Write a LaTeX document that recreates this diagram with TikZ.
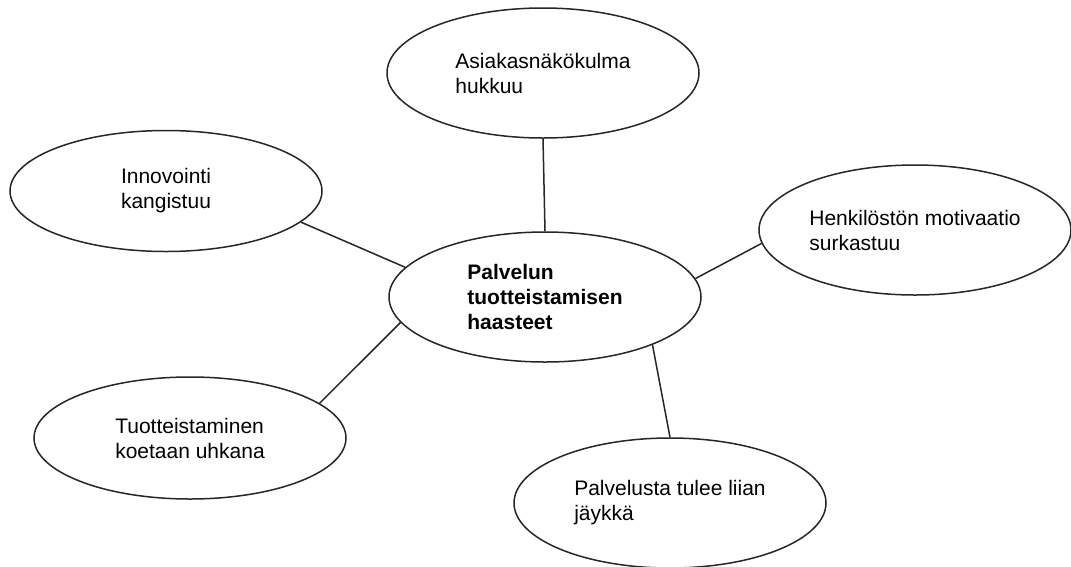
\documentclass[tikz,border=0pt]{standalone}
\usepackage{fontspec}
\setmainfont{Liberation Sans}
\usetikzlibrary{shapes.geometric}
\begin{document}
\begin{tikzpicture}[x=1pt,y=-1pt,
  bubble/.style={ellipse,draw=black!85,line width=1.5pt,fill=white,
    minimum width=312pt,minimum height=130pt,inner sep=0pt,align=left,
    font=\fontsize{21}{25}\selectfont},
  link/.style={draw=black!85,line width=1.5pt}]
\useasboundingbox (0,0) rectangle (1071,566);
% central topic
\node[bubble,font=\fontsize{21}{25}\selectfont\bfseries] (ctr) at (545,297) {Palvelun\\tuotteistamisen\\haasteet};
% surrounding challenges
\node[bubble] (top) at (543,73) {Asiakasnäkökulma\\hukkuu};
\node[bubble,minimum height=121pt] (inn) at (166,191) {Innovointi\\kangistuu};
\node[bubble] (hen) at (915,230) {Henkilöstön motivaatio\\surkastuu};
\node[bubble,minimum height=122pt] (tuo) at (190,438) {Tuotteistaminen\\koetaan uhkana};
\node[bubble] (pal) at (670,503) {Palvelusta tulee liian\\jäykkä};
% connectors
\draw[link] (top.south) -- (ctr.north);
\draw[link] (inn.-13) -- (ctr.168.3);
\draw[link] (ctr.7.2) -- (hen.185.9);
\draw[link] (ctr.190.3) -- (tuo.15.3);
\draw[link] (ctr.-24.8) -- (pal.north);
\end{tikzpicture}
\end{document}
